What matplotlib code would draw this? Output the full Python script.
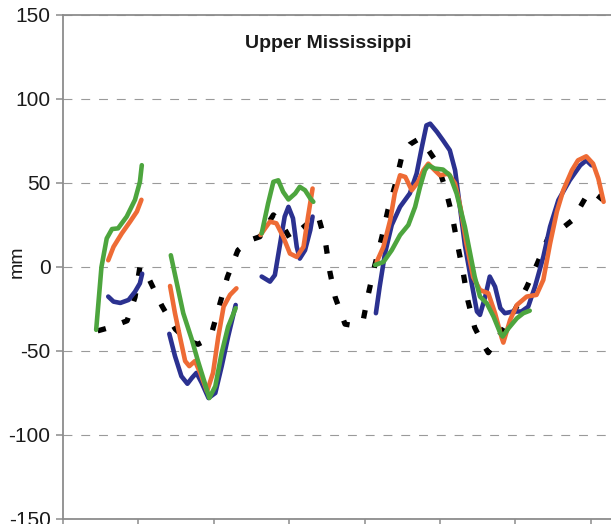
import numpy as np
import matplotlib
matplotlib.use("Agg")
import matplotlib.pyplot as plt

plt.rcParams['font.family'] = ['Liberation Sans', 'DejaVu Sans']
plt.rcParams['axes.unicode_minus'] = False

nan = np.nan

# ---- data (x in years from first tick, y in mm) ----
obs_x = [0.46, 0.62, 0.85, 0.955, 1.02, 1.15, 1.31, 1.49, 1.66, 1.79, 1.88, 1.98, 2.08, 2.18,
         2.32, 2.48, 2.61, 2.79, 2.91, 3.01, 3.17, 3.38, 3.48, 3.54, 3.61, 3.74, 3.87, 3.98,
         4.05, 4.13, 4.23, 4.31, 4.40, 4.50, 4.60, 4.71, 4.84, 4.96, 5.07, 5.16, 5.23, 5.31,
         5.37, 5.46, 5.56, 5.64, 5.80, 6.00, 6.15, 6.29, 6.43, 6.59, 6.76, 6.94, 7.02, 7.16]
obs_y = [-38, -36, -32, -18, 0, -8, -23, -37, -44, -46, -44, -38, -22, -6,
         10, 16, 18, 31, 25, 17, 23, 31, 15, -3, -18, -34, -35, -32,
         -16, 0, 18, 34, 48, 67, 73, 76, 70, 62, 47, 31, 14, -4,
         -20, -36, -45, -51, -40, -25, -12, 2, 17, 22, 28, 42, 45, 40]

blue_x = [0.60, 0.67, 0.76, 0.87, 0.955, 1.02, 1.05, nan,
          1.41, 1.485, 1.57, 1.65, 1.71, 1.77, 1.84, 1.93, 2.02, 2.105, 2.19, 2.29, nan,
          2.635, 2.745, 2.81, 2.88, 2.94, 2.99, 3.05, 3.10, 3.14, 3.21, 3.28, 3.31, nan,
          4.15, 4.20, 4.27, 4.36, 4.47, 4.60, 4.69, 4.76, 4.82, 4.87, 4.96, 5.04, 5.13, 5.20,
          5.27, 5.33, 5.42, 5.49, 5.53, 5.60, 5.66, 5.73, 5.80, 5.86, 5.97, 6.08, 6.17, 6.26,
          6.37, 6.46, 6.57, 6.72, 6.86, 6.94, 7.01]
blue_y = [-17.6, -20.6, -21.4, -19.6, -14.7, -9.7, -4, nan,
          -39.8, -53, -65, -69.5, -66, -63, -69, -78, -75, -59, -41.4, -22.6, nan,
          -5.7, -8.7, -4.8, 14, 30, 35.8, 29, 12, 5, 10, 22, 30, nan,
          -27.5, -11.7, 8, 25, 35.8, 43.8, 55.6, 71.5, 84.3, 85.3, 80.4, 75.4, 69.5, 57.6,
          33.8, 13, -9.7, -26.5, -28.5, -17.6, -5.7, -11.7, -24.5, -27.5, -26.5, -26.5, -23.6, -11.7,
          6, 24, 39.8, 51.6, 60.5, 63.5, 60.5]

orange_x = [0.60, 0.67, 0.78, 0.89, 0.98, 1.04, nan,
            1.42, 1.485, 1.55, 1.62, 1.675, 1.75, 1.82, 1.91, 1.99, 2.06, 2.13, 2.215, 2.30, nan,
            2.62, 2.68, 2.745, 2.83, 2.92, 3.01, 3.10, 3.19, 3.25, 3.31, nan,
            4.16, 4.25, 4.34, 4.40, 4.47, 4.54, 4.625, 4.71, 4.78, 4.845, 4.93, 5.00, 5.11, 5.20,
            5.27, 5.35, 5.44, 5.53, 5.64, 5.73, 5.82, 5.84, 5.93, 6.02, 6.15, 6.28, 6.37, 6.46,
            6.55, 6.635, 6.75, 6.83, 6.94, 7.03, 7.10, 7.17]
orange_y = [4, 12, 20, 27, 33, 40, nan,
            -11.3, -27.5, -41.4, -56, -59, -56, -63, -74, -63, -41.4, -23.6, -16.6, -12.7, nan,
            19, 23, 27, 26, 18, 8, 6, 12, 30, 46.7, nan,
            3, 12, 28, 43.8, 54.6, 53.6, 45.7, 50.7, 57.6, 61.5, 57.6, 54.6, 55.6, 49.7,
            35.8, 14, -6, -13.7, -15.6, -27.5, -42.4, -45, -31.5, -22.6, -17.6, -16.6, -7.7, 14,
            33, 45.7, 57.6, 63.5, 65.9, 61.5, 52.6, 38.8]

green_x = [0.44, 0.51, 0.58, 0.65, 0.73, 0.845, 0.955, 1.02, 1.045, nan,
           1.43, 1.51, 1.595, 1.71, 1.79, 1.88, 1.94, 2.02, 2.105, 2.19, 2.29, nan,
           2.635, 2.72, 2.79, 2.855, 2.92, 2.99, 3.08, 3.14, 3.21, 3.28, 3.32, nan,
           4.14, 4.25, 4.36, 4.47, 4.58, 4.67, 4.735, 4.80, 4.845, 4.93, 5.04, 5.13, 5.22,
           5.33, 5.40, 5.46, 5.53, 5.62, 5.71, 5.80, 5.83, 5.91, 6.02, 6.105, 6.19]
green_y = [-37.4, 0, 17, 22.6, 23, 30, 40, 50.7, 60.6, nan,
           7, -9.7, -27.5, -43.4, -56, -69, -78, -71, -51, -35.5, -24.5, nan,
           20, 37.8, 50.7, 51.6, 44.7, 40.2, 43.8, 47.7, 45.7, 40.8, 38.8, nan,
           1.2, 3, 10, 19, 25, 35.8, 47.7, 57.6, 60.5, 58.6, 58, 54.6, 43.8,
           24, 8, -5.7, -17.6, -21.6, -29.5, -39.4, -41.4, -36.4, -30.5, -27.5, -26]

y_ticks = [-150, -100, -50, 0, 50, 100, 150]
y_tick_labels = ["-150", "-100", "-50", "0", "50", "100", "150"]
x_ticks = [0, 1, 2, 3, 4, 5, 6, 7]
title = "Upper Mississippi"
ylabel = "mm"

# ---- figure ----
fig = plt.figure(figsize=(6.11, 5.24), dpi=100)
ax = fig.add_axes([63 / 611, 1 - 519 / 524, 548 / 611, 504 / 524])

ax.plot(obs_x, obs_y, color='black', lw=3.8, linestyle=(0, (1.6, 3.3)),
        dash_capstyle='butt', zorder=3)
ax.plot(blue_x, blue_y, color='#2B3190', lw=3.3, solid_capstyle='round',
        solid_joinstyle='round', zorder=4)
ax.plot(orange_x, orange_y, color='#EE6B35', lw=3.3, solid_capstyle='round',
        solid_joinstyle='round', zorder=5)
ax.plot(green_x, green_y, color='#4DA53E', lw=3.3, solid_capstyle='round',
        solid_joinstyle='round', zorder=6)

ax.set_xlim(0, 548 / 75.4)
ax.set_ylim(-150, 150)
ax.set_yticks(y_ticks)
ax.set_yticklabels(y_tick_labels, fontsize=15, color='#1a1a1a')
ax.set_xticks(x_ticks)
ax.set_xticklabels([])

ax.grid(axis='y', color='#9a9a9a', lw=0.8, linestyle=(0, (8, 8)))
ax.grid(axis='x', visible=False)
ax.set_axisbelow(True)

for s in ['left', 'bottom', 'top']:
    ax.spines[s].set_color('#8c8c8c')
    ax.spines[s].set_linewidth(1.3)
ax.spines['right'].set_visible(False)
ax.tick_params(axis='both', direction='out', length=5, width=1.1, color='#8c8c8c', pad=4)

fig.text(328 / 611, 1 - 48 / 524, title, fontsize=14, fontweight='bold',
         ha='center', va='baseline', color='#1a1a1a')
fig.text(17 / 611, 1 - 262 / 524, ylabel, fontsize=14, rotation=90,
         ha='center', va='center', color='#1a1a1a')

fig.savefig('out.png', dpi=100)
